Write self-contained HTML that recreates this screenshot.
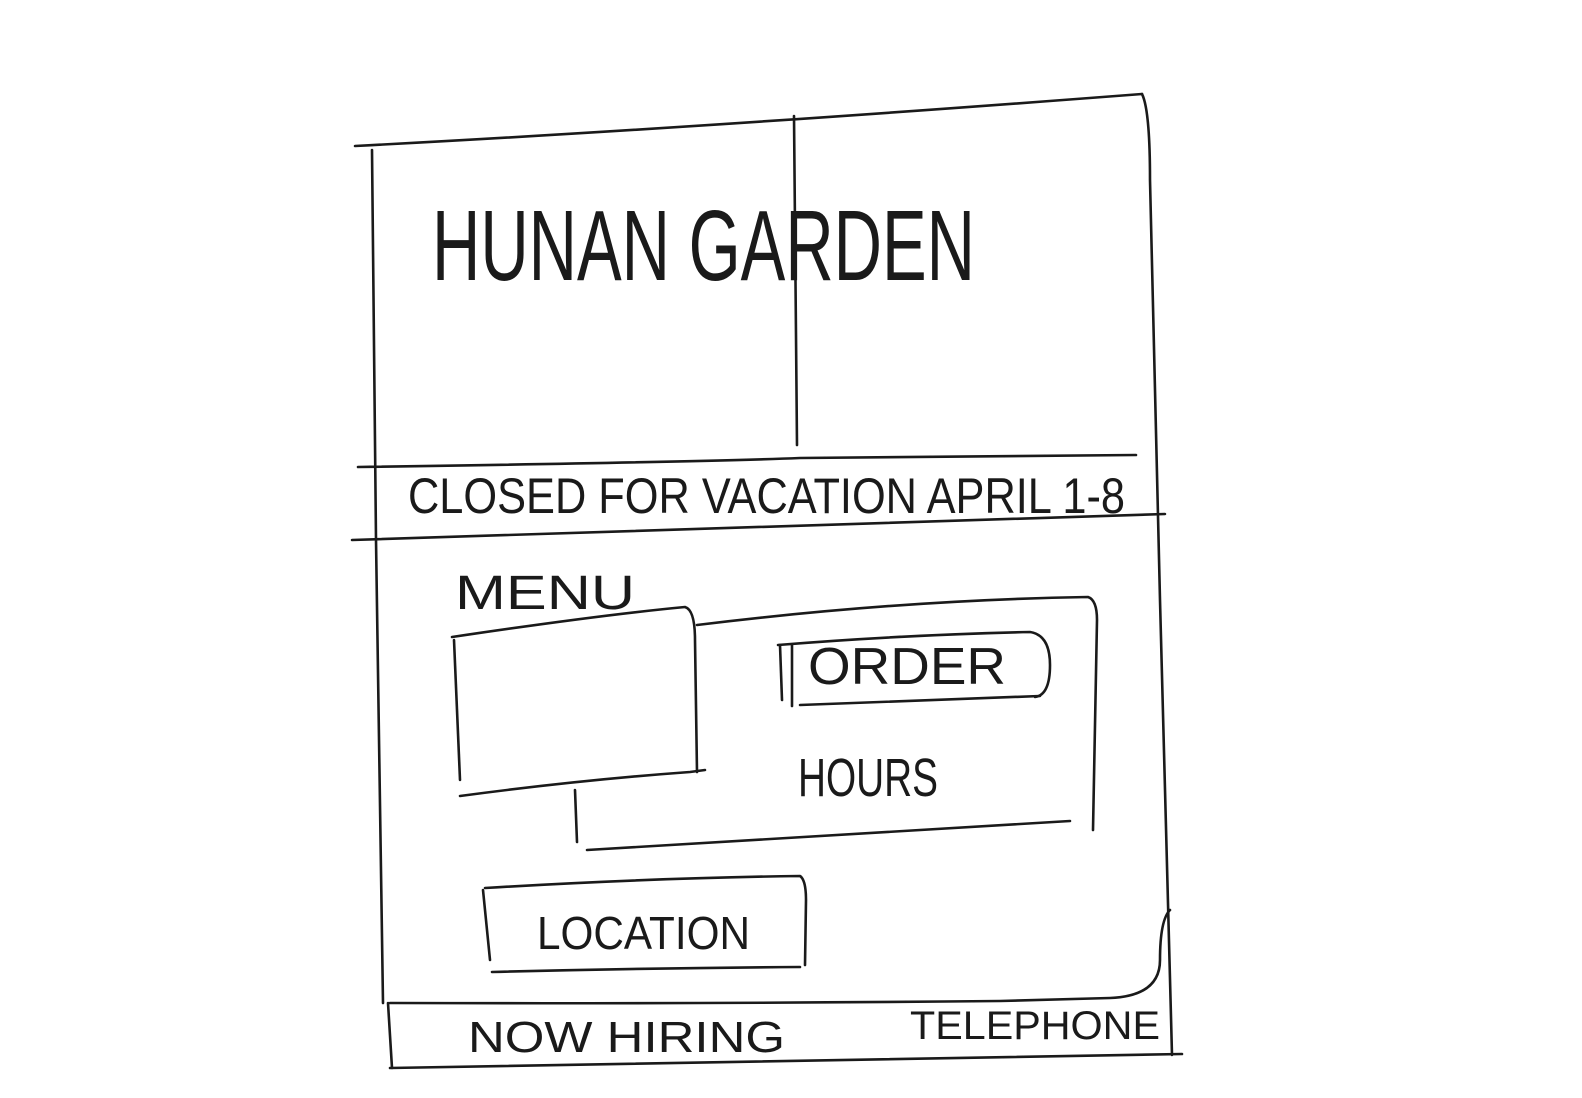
<!DOCTYPE html>
<html><head><meta charset="utf-8"><style>
html,body{margin:0;padding:0;background:#fff;}
svg{display:block;}
text{font-family:"Liberation Sans",sans-serif;fill:#1a1a1a;}
</style></head><body>
<svg width="1582" height="1098" viewBox="0 0 1582 1098" xmlns="http://www.w3.org/2000/svg">
<g fill="none" stroke="#1a1a1a" stroke-width="2.6" stroke-linecap="round" stroke-linejoin="round">
<path d="M355 146 Q700 128 1142 94"/>
<path d="M1142 94 Q1150 110 1150 180 L1160 600 L1172 1055"/>
<path d="M372 150 L376 540 L383 1003"/>
<path d="M388 1003 L392 1068"/>
<path d="M390 1068 Q800 1062 1182 1054"/>
<path d="M794 116 L797 445"/>
<path d="M358 467 Q700 462 800 458 L1136 455"/>
<path d="M352 540 Q800 525 1165 514"/>
<path d="M452 637 Q600 615 685 607 Q695 610 695 640 L697 772"/>
<path d="M454 640 L460 780"/>
<path d="M460 796 Q580 780 690 772 L705 770"/>
<path d="M697 625 Q900 600 1088 597 Q1097 600 1097 620 L1093 830"/>
<path d="M575 790 L577 842"/>
<path d="M587 850 Q830 835 1070 821"/>
<path d="M778 645 Q900 635 1030 632 Q1050 635 1050 665 Q1050 695 1035 697"/>
<path d="M780 645 L782 700"/>
<path d="M792 645 L792 706"/>
<path d="M800 705 Q920 700 1040 696"/>
<path d="M485 888 Q650 878 800 876 Q806 880 806 900 L805 965"/>
<path d="M483 890 L490 960"/>
<path d="M492 972 Q650 968 800 967"/>
<path d="M1170 910 Q1160 920 1160 960 Q1160 996 1110 998 L1000 1001 Q700 1004 390 1003"/>
</g>
<text x="432" y="280" font-size="100" textLength="543" lengthAdjust="spacingAndGlyphs">HUNAN GARDEN</text>
<text x="408" y="513" font-size="50" textLength="717" lengthAdjust="spacingAndGlyphs">CLOSED FOR VACATION APRIL 1-8</text>
<text x="455" y="609" font-size="48" textLength="180" lengthAdjust="spacingAndGlyphs">MENU</text>
<text x="808" y="684" font-size="52" textLength="198" lengthAdjust="spacingAndGlyphs">ORDER</text>
<text x="798" y="796" font-size="54" textLength="140" lengthAdjust="spacingAndGlyphs">HOURS</text>
<text x="537" y="949" font-size="46" textLength="213" lengthAdjust="spacingAndGlyphs">LOCATION</text>
<text x="468" y="1052" font-size="44" textLength="317" lengthAdjust="spacingAndGlyphs">NOW HIRING</text>
<text x="910" y="1039" font-size="40" textLength="250" lengthAdjust="spacingAndGlyphs">TELEPHONE</text>
</svg>
</body></html>
